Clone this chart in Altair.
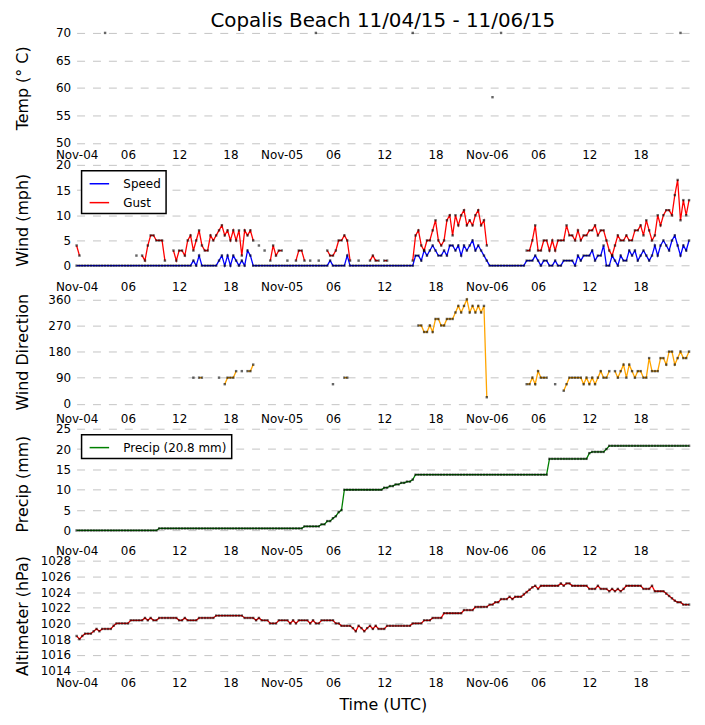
import altair as alt
import pandas as pd

FONT = "DejaVu Sans"
N = None

# 20-minute observations, 2015-11-04 00:00 UTC .. 2015-11-06 23:40 UTC
times = pd.date_range("2015-11-04 00:00", periods=216, freq="20min").strftime("%Y-%m-%dT%H:%M:%SZ").tolist()

temp_f = [N] * 216
for idx, val in [(10, 70), (84, 70), (118, 70), (146, 58.3), (149, 70), (212, 70)]:
    temp_f[idx] = val

speed = [
    0, 0, 0, 0, 0, 0, 0, 0, 0, 0, 0, 0,
    0, 0, 0, 0, 0, 0, 0, 0, 0, 0, 0, 0,
    0, 0, 0, 0, 0, 0, 0, 0, 0, 0, 0, 0,
    0, 0, 0, 0, 0, 1, 0, 2, 0, 0, 0, 0,
    0, 0, 1, 2, 0, 2, 0, 2, 1, 0, 1, 0,
    3, 2, 0, 0, 0, 0, 0, 0, 0, 0, 0, 0,
    0, 0, 0, 0, 0, 0, 0, 0, 0, 0, 0, 0,
    0, 0, 0, 0, 0, 1, 0, 0, 0, 0, 0, 2,
    0, 0, 0, 0, 0, 0, 0, 0, 0, 0, 0, 0,
    0, 0, 0, 0, 0, 0, 0, 0, 0, 0, 0, 2,
    2, 1, 3, 2, 3, 4, 3, 2, 2, 3, 2, 4,
    4, 3, 4, 2, 4, 3, 4, 5, 3, 4, 3, 2,
    1, 0, 0, 0, 0, 0, 0, 0, 0, 0, 0, 0,
    0, 0, 1, 1, 1, 2, 1, 0, 1, 1, 0, 0,
    1, 0, 0, 1, 1, 1, 1, 0, 2, 1, 2, 2,
    2, 3, 1, 2, 2, 4, 0, 0, 2, 1, 0, 2,
    1, 1, 3, 2, 3, 1, 2, 3, 2, 1, 2, 4,
    2, 4, 5, 4, 3, 5, 6, 4, 2, 4, 3, 5,
]

gust = [
    4, 2, N, N, N, N, N, N, N, N, N, N,
    N, N, N, N, N, N, N, N, N, 2, N, 2,
    1, 4, 6, 6, 5, 5, 5, 1, N, N, 3, 1,
    3, 3, 2, 5, 6, 3, 5, 7, 4, 3, 3, 6,
    5, 6, 7, 8, 6, 7, 5, 7, 5, 7, 2, 7,
    6, 7, 5, N, 4, N, 3, N, 1, 4, 2, 3,
    3, N, 1, N, N, 1, 3, 3, 1, N, 1, N,
    N, 1, N, N, 3, 2, 2, 3, 5, 5, 6, 5,
    1, N, N, 1, N, N, N, 1, 2, 1, 1, N,
    1, 1, N, N, N, N, N, N, N, N, 1, 6,
    7, 4, 3, 5, 5, 7, 9, 5, 4, 5, 9, 10,
    6, 10, 8, 10, 11, 8, 9, 8, 10, 11, 8, 9,
    4, N, N, N, N, N, N, N, N, N, N, N,
    N, N, 3, 3, 5, 8, 3, 3, 5, 5, 3, 5,
    3, 5, 5, 5, 8, 6, 6, 5, 7, 5, 6, 6,
    7, 7, 8, 6, 7, 7, 5, 3, 2, 4, 6, 5,
    5, 6, 5, 5, 7, 7, 8, 6, 9, 7, 5, 6,
    10, 8, 10, 11, 11, 10, 14, 17, 9, 13, 10, 13,
]

direction = [
    N, N, N, N, N, N, N, N, N, N, N, N,
    N, N, N, N, N, N, N, N, N, N, N, N,
    N, N, N, N, N, N, N, N, N, N, N, N,
    N, N, N, N, N, 90, N, 90, 90, N, N, N,
    N, N, 90, N, 67.5, 90, 90, 90, 112.5, N, 112.5, N,
    112.5, 112.5, 135, N, N, N, N, N, N, N, N, N,
    N, N, N, N, N, N, N, N, N, N, N, N,
    N, N, N, N, N, N, 67.5, N, N, N, 90, 90,
    N, N, N, N, N, N, N, N, N, N, N, N,
    N, N, N, N, N, N, N, N, N, N, N, N,
    270, 270, 247.5, 247.5, 270, 247.5, 292.5, 292.5, 270, 270, 292.5, 292.5,
    292.5, 315, 337.5, 315, 337.5, 360, 315, 337.5, 315, 337.5, 315, 337.5,
    22.5, N, N, N, N, N, N, N, N, N, N, N,
    N, N, 67.5, 67.5, 90, 67.5, 112.5, 90, 90, 90, N, N,
    67.5, N, N, 45, 67.5, 90, 90, 90, 90, 90, 67.5, 90,
    67.5, 90, 67.5, 90, 112.5, 90, 90, 112.5, N, 112.5, 90, 112.5,
    135, 90, 135, 112.5, 90, 112.5, 112.5, 90, 90, 157.5, 112.5, 112.5,
    112.5, 157.5, 157.5, 135, 180, 180, 135, 157.5, 180, 157.5, 157.5, 180,
]

precip = [
    0, 0, 0, 0, 0, 0, 0, 0, 0, 0, 0, 0,
    0, 0, 0, 0, 0, 0, 0, 0, 0, 0, 0, 0,
    0, 0, 0, 0, 0, 0.5, 0.5, 0.5, 0.5, 0.5, 0.5, 0.5,
    0.5, 0.5, 0.5, 0.5, 0.5, 0.5, 0.5, 0.5, 0.5, 0.5, 0.5, 0.5,
    0.5, 0.5, 0.5, 0.5, 0.5, 0.5, 0.5, 0.5, 0.5, 0.5, 0.5, 0.5,
    0.5, 0.5, 0.5, 0.5, 0.5, 0.5, 0.5, 0.5, 0.5, 0.5, 0.5, 0.5,
    0.5, 0.5, 0.5, 0.5, 0.5, 0.5, 0.5, 0.5, 1.0, 1.0, 1.0, 1.0,
    1.0, 1.0, 1.5, 1.5, 2.3, 2.3, 3.0, 3.5, 4.5, 5.0, 10.0, 10.0,
    10.0, 10.0, 10.0, 10.0, 10.0, 10.0, 10.0, 10.0, 10.0, 10.0, 10.0, 10.0,
    10.5, 10.5, 10.9, 10.9, 11.3, 11.3, 11.7, 11.7, 12.0, 12.0, 12.5, 13.7,
    13.7, 13.7, 13.7, 13.7, 13.7, 13.7, 13.7, 13.7, 13.7, 13.7, 13.7, 13.7,
    13.7, 13.7, 13.7, 13.7, 13.7, 13.7, 13.7, 13.7, 13.7, 13.7, 13.7, 13.7,
    13.7, 13.7, 13.7, 13.7, 13.7, 13.7, 13.7, 13.7, 13.7, 13.7, 13.7, 13.7,
    13.7, 13.7, 13.7, 13.7, 13.7, 13.7, 13.7, 13.7, 13.7, 13.7, 17.6, 17.6,
    17.6, 17.6, 17.6, 17.6, 17.6, 17.6, 17.6, 17.6, 17.6, 17.6, 17.6, 17.6,
    19.0, 19.3, 19.3, 19.3, 19.3, 19.3, 20.0, 20.8, 20.8, 20.8, 20.8, 20.8,
    20.8, 20.8, 20.8, 20.8, 20.8, 20.8, 20.8, 20.8, 20.8, 20.8, 20.8, 20.8,
    20.8, 20.8, 20.8, 20.8, 20.8, 20.8, 20.8, 20.8, 20.8, 20.8, 20.8, 20.8,
]

altimeter = [
    1018.4, 1018.0, 1018.4, 1018.7, 1018.7, 1018.7, 1019.0, 1019.3, 1019.0, 1019.3, 1019.3, 1019.3,
    1019.3, 1019.7, 1020.0, 1020.0, 1020.0, 1020.0, 1020.0, 1020.4, 1020.4, 1020.4, 1020.4, 1020.4,
    1020.7, 1020.4, 1020.7, 1020.4, 1020.4, 1020.7, 1020.7, 1020.7, 1020.7, 1020.7, 1020.7, 1020.7,
    1020.4, 1020.4, 1020.7, 1020.4, 1020.4, 1020.4, 1020.4, 1020.7, 1020.7, 1020.7, 1020.7, 1020.7,
    1020.7, 1021.0, 1021.0, 1021.0, 1021.0, 1021.0, 1021.0, 1021.0, 1021.0, 1021.0, 1021.0, 1020.7,
    1020.7, 1020.7, 1020.7, 1020.4, 1020.7, 1020.4, 1020.4, 1020.4, 1020.0, 1020.0, 1020.0, 1020.4,
    1020.4, 1020.4, 1020.4, 1020.0, 1020.4, 1020.0, 1020.4, 1020.4, 1020.4, 1020.4, 1020.0, 1020.4,
    1020.0, 1020.0, 1020.4, 1020.4, 1020.4, 1020.4, 1020.4, 1020.0, 1020.0, 1019.7, 1019.7, 1019.7,
    1019.7, 1019.4, 1019.0, 1019.7, 1019.4, 1019.0, 1019.4, 1019.7, 1019.3, 1019.7, 1019.3, 1019.3,
    1019.3, 1019.7, 1019.7, 1019.7, 1019.7, 1019.7, 1019.7, 1019.7, 1019.7, 1019.7, 1020.0, 1020.0,
    1020.0, 1020.0, 1020.4, 1020.4, 1020.4, 1020.7, 1020.7, 1020.7, 1020.7, 1021.3, 1021.3, 1021.3,
    1021.3, 1021.3, 1021.3, 1021.3, 1021.7, 1021.7, 1021.7, 1021.7, 1022.1, 1022.1, 1022.1, 1022.1,
    1022.1, 1022.4, 1022.4, 1022.7, 1022.7, 1023.1, 1023.1, 1023.1, 1023.4, 1023.1, 1023.4, 1023.4,
    1023.4, 1023.7, 1024.0, 1024.3, 1024.6, 1024.8, 1024.4, 1024.8, 1024.8, 1024.8, 1024.8, 1024.8,
    1024.8, 1024.8, 1025.1, 1024.8, 1025.1, 1025.1, 1024.8, 1024.8, 1024.8, 1024.8, 1024.8, 1024.8,
    1024.4, 1024.4, 1024.4, 1024.8, 1024.4, 1024.4, 1024.4, 1024.1, 1024.4, 1024.1, 1024.4, 1024.1,
    1024.4, 1024.8, 1024.8, 1024.8, 1024.8, 1024.8, 1024.8, 1024.4, 1024.4, 1024.4, 1024.8, 1024.1,
    1024.1, 1024.1, 1024.1, 1023.8, 1023.5, 1023.2, 1022.9, 1022.7, 1022.7, 1022.4, 1022.4, 1022.4,
]

tick_hours = list(range(0, 72, 6))
precip_label = "Precip (20.8 mm)"


def frame(values, series):
    rows, seg, prev = [], 0, None
    for t, v in zip(times, values):
        if v is None:
            prev = None
            continue
        if prev is None:
            seg += 1
        rows.append({"time": t, "value": v, "series": series, "seg": f"{series}-{seg}"})
        prev = v
    return pd.DataFrame(rows)


W, H = 616, 110.5
x_vals = [alt.DateTime(year=2015, month=11, date=4 + h // 24, hours=h % 24, utc=True) for h in tick_hours]
x_dom = [alt.DateTime(year=2015, month=11, date=4, hours=0, utc=True),
         alt.DateTime(year=2015, month=11, date=6, hours=23, minutes=40, utc=True)]
label_expr = "utchours(datum.value) == 0 ? utcFormat(datum.value, '%b-%d') : utcFormat(datum.value, '%H')"


def xenc(title=None):
    return alt.X("time:T", scale=alt.Scale(type="utc", domain=x_dom),
                 axis=alt.Axis(values=x_vals, labelExpr=label_expr, grid=False, labelFlush=False,
                               labelOverlap=False, labelPadding=7, title=title, titlePadding=8))


def yenc(title, dom, ticks):
    return alt.Y("value:Q", scale=alt.Scale(domain=dom, nice=False, zero=False),
                 axis=alt.Axis(values=ticks, title=title, titleX=-46, titleY=H / 2, titleAngle=270,
                               titleBaseline="bottom", titleAlign="center", labelPadding=6, grid=True,
                               format="d"))


def legend():
    return alt.Legend(orient="none", legendX=5, legendY=6, title=None, symbolType="M-0.7,0H2.1",
                      symbolSize=196, symbolStrokeWidth=1.5, labelOffset=21, padding=5, rowPadding=5,
                      strokeColor="black", fillColor="white", labelFontSize=12, labelFont=FONT,
                      labelColor="black")


def panel(df, title, dom, ticks, colors=None, domain_names=None, line=True, xtitle=None, show_legend=False):
    layers = []
    if line:
        if domain_names is not None:
            color = alt.Color("series:N", scale=alt.Scale(domain=domain_names, range=colors),
                              legend=legend() if show_legend else None)
        else:
            color = alt.value(colors[0])
        layers.append(alt.Chart(df).mark_line(strokeWidth=1.3).encode(
            x=xenc(xtitle), y=yenc(title, dom, ticks), color=color, detail="seg:N"))
    layers.append(alt.Chart(df).mark_square(size=6, color="black", opacity=0.6).encode(
        x=xenc(xtitle), y=yenc(title, dom, ticks)))
    return alt.layer(*layers).properties(width=W, height=H)


wind_df = pd.concat([frame(speed, "Speed"), frame(gust, "Gust")], ignore_index=True)

p_temp = panel(frame(temp_f, "Temp"), "Temp (° C)", [50, 70], [50, 55, 60, 65, 70], line=False)
p_wind = panel(wind_df, "Wind (mph)", [-1.8, 20], [0, 5, 10, 15, 20],
               colors=["#0000ff", "#ff0000"], domain_names=["Speed", "Gust"], show_legend=True)
p_dir = panel(frame(direction, "Dir"), "Wind Direction", [-10, 369], [0, 90, 180, 270, 360],
              colors=["#ffa500"])
p_prec = panel(frame(precip, precip_label), "Precip (mm)", [-2, 25], [0, 5, 10, 15, 20, 25],
               colors=["#008000"], domain_names=[precip_label], show_legend=True)
p_alt = panel(frame(altimeter, "Alt"), "Altimeter (hPa)", [1014, 1028], list(range(1014, 1029, 2)),
              colors=["#ff0000"], xtitle="Time (UTC)")

chart = alt.vconcat(p_temp, p_wind, p_dir, p_prec, p_alt, spacing=21.7, bounds="flush").resolve_scale(
    color="independent", y="independent").resolve_legend(color="independent").properties(
    title=alt.TitleParams("Copalis Beach 11/04/15 - 11/06/15", anchor="middle", frame="group", offset=-4),
    padding={"left": 7, "top": 1, "right": 5, "bottom": 5},
).configure_axis(
    labelFont=FONT, labelFontSize=12, labelColor="black", titleFont=FONT, titleFontSize=16,
    titleFontWeight="normal", titleColor="black", domain=False, ticks=False,
    gridColor="#c4c4c4", gridDash=[8, 8], gridWidth=1,
).configure_view(stroke=None).configure_title(
    font=FONT, fontSize=20, fontWeight="normal", color="black"
).configure_legend(strokeWidth=1.5)

chart.save("out.html", embed_options={"renderer": "svg", "actions": False})
